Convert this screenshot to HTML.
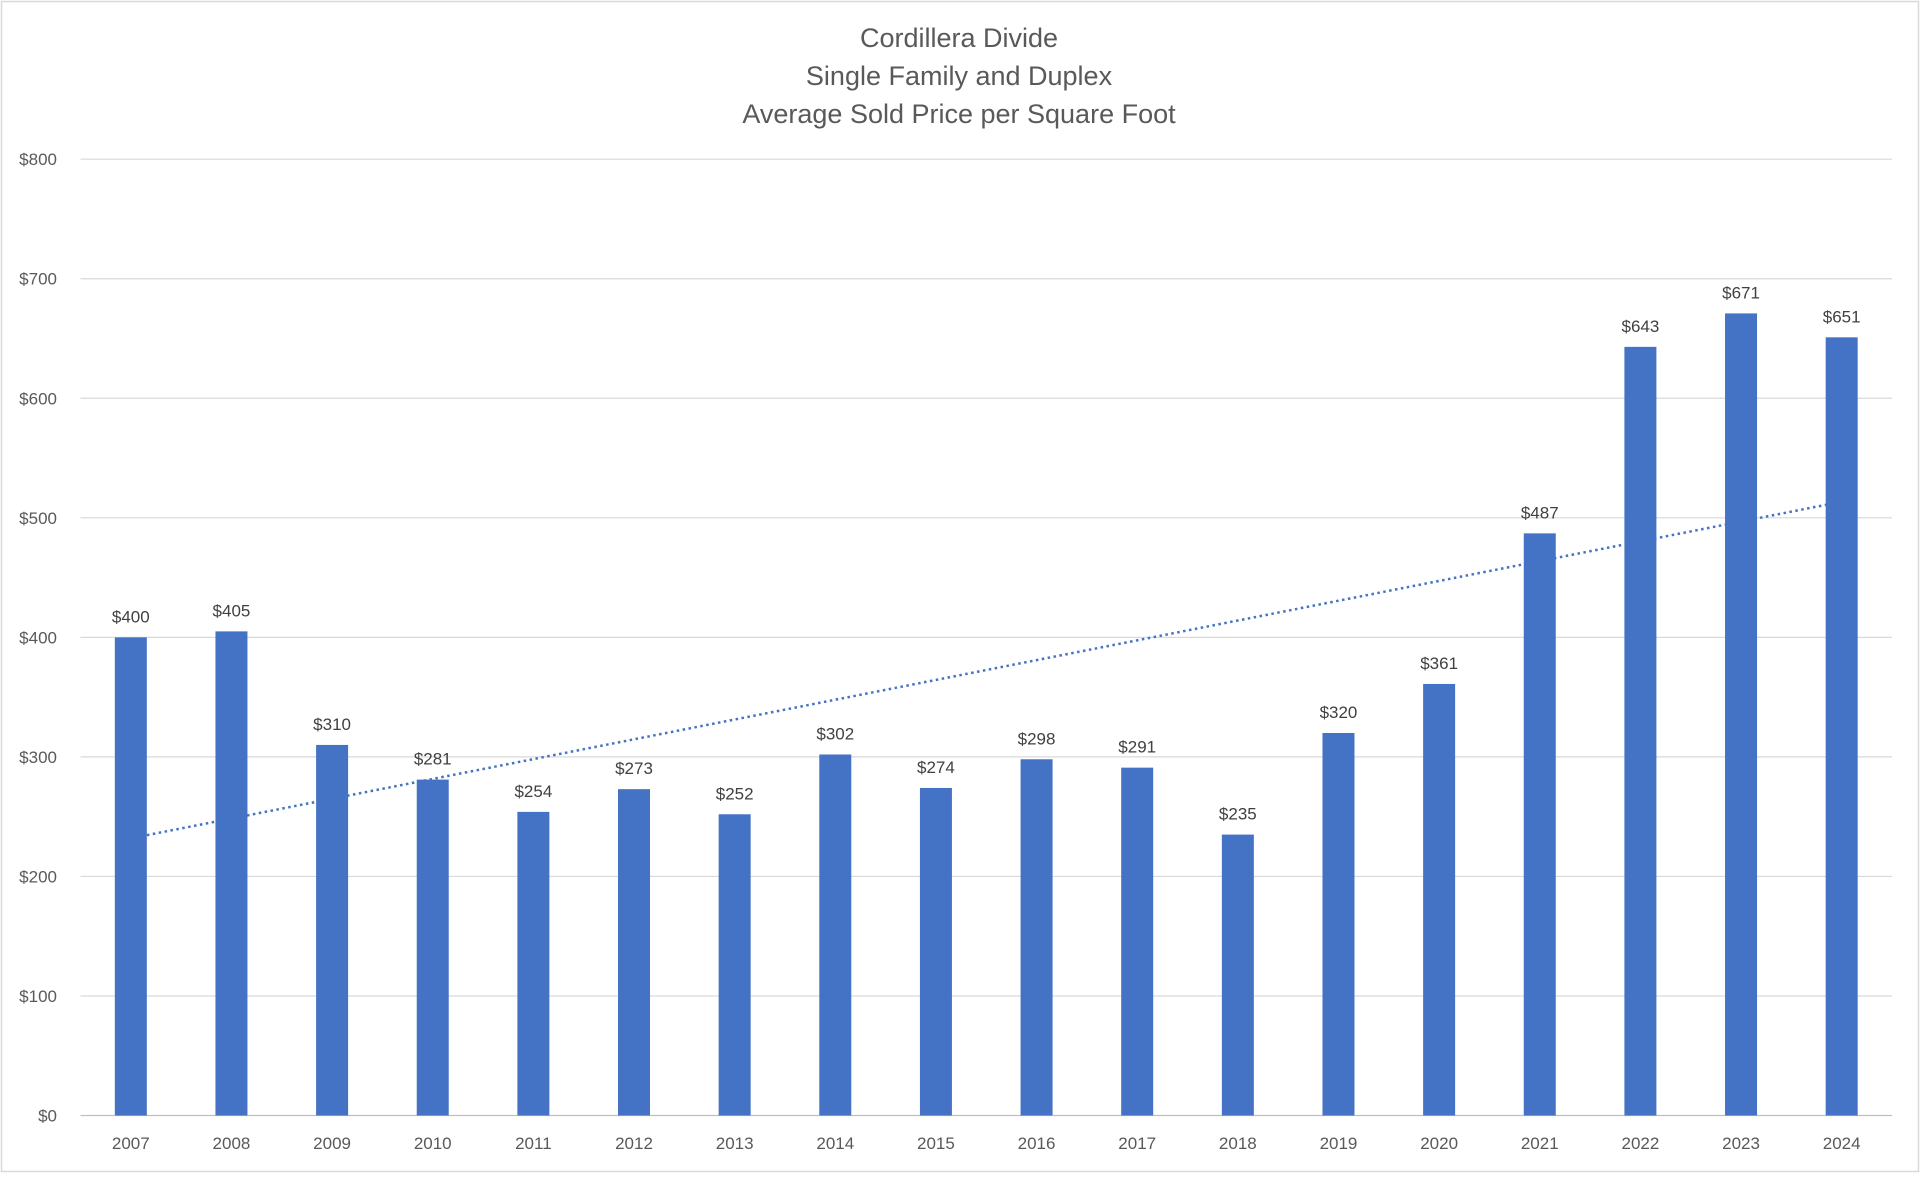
<!DOCTYPE html>
<html><head><meta charset="utf-8">
<style>
html,body{margin:0;padding:0;background:#fff;}
body{width:1920px;height:1173px;overflow:hidden;font-family:"Liberation Sans",sans-serif;}
</style></head>
<body>
<svg id="chart" width="1920" height="1173" xmlns="http://www.w3.org/2000/svg">
<rect x="1.5" y="1.5" width="1917" height="1170" fill="#fff" stroke="#d9d9d9" stroke-width="1.5"/>
<g font-size="27" fill="#595959" text-anchor="middle">
<text x="959" y="47">Cordillera Divide</text>
<text x="959" y="85">Single Family and Duplex</text>
<text x="959" y="123">Average Sold Price per Square Foot</text>
</g>
<g id="grid"></g><g id="bars"></g><g id="labels"></g><g id="trend"></g>
</svg>
<script>
const categories=["2007","2008","2009","2010","2011","2012","2013","2014","2015","2016","2017","2018","2019","2020","2021","2022","2023","2024"];
const values=[400,405,310,281,254,273,252,302,274,298,291,235,320,361,487,643,671,651];
const yTicks=[0,100,200,300,400,500,600,700,800];
const yTickLabels=["$0","$100","$200","$300","$400","$500","$600","$700","$800"];
const NS="http://www.w3.org/2000/svg";
const plotL=80.5,plotR=1892,y0=1115.5,yTop=159.2,yMax=800;
const band=(plotR-plotL)/categories.length;
function x(i){return plotL+band*(i+0.5);}
function y(v){return y0-(v/yMax)*(y0-yTop);}
function mk(tag,attrs,parent){const e=document.createElementNS(NS,tag);for(const k in attrs)e.setAttribute(k,attrs[k]);parent.appendChild(e);return e;}
const grid=document.getElementById('grid');
yTicks.forEach((t,i)=>{
 const l=mk('line',{x1:plotL,x2:plotR,y1:y(t),y2:y(t),stroke:t===0?'#bfbfbf':'#d9d9d9','stroke-width':1.2},grid);
 
 
 const tx=mk('text',{x:57,y:y(t)+6,'text-anchor':'end','font-size':17,fill:'#595959'},grid);
 tx.textContent=yTickLabels[i];
 
 
});
const bars=document.getElementById('bars'),labels=document.getElementById('labels');
const bw=32;
values.forEach((v,i)=>{
 const r=mk('rect',{x:x(i)-bw/2,y:y(v),width:bw,height:y0-y(v),fill:'#4472C4'},bars);
 
 
 const t=mk('text',{x:x(i),y:y(v)-15,'text-anchor':'middle','font-size':17,fill:'#404040'},labels);
 t.textContent='$'+v;
 
 
 const c=mk('text',{x:x(i),y:1149,'text-anchor':'middle','font-size':17,fill:'#595959'},labels);
 c.textContent=categories[i];
 
 
});
const n=values.length;let sx=0,sy=0,sxy=0,sxx=0;
values.forEach((v,i)=>{sx+=i;sy+=v;sxy+=i*v;sxx+=i*i;});
const m=(n*sxy-sx*sy)/(n*sxx-sx*sx),b=(sy-m*sx)/n;
const i0=0.16,i1=n-1-0.14;
const tl=mk('line',{x1:x(i0),y1:y(b+m*i0),x2:x(i1),y2:y(b+m*i1),stroke:'#4472C4','stroke-width':2.5,'stroke-dasharray':'2.5 3.5'},document.getElementById('trend'));


</script>
</body></html>
